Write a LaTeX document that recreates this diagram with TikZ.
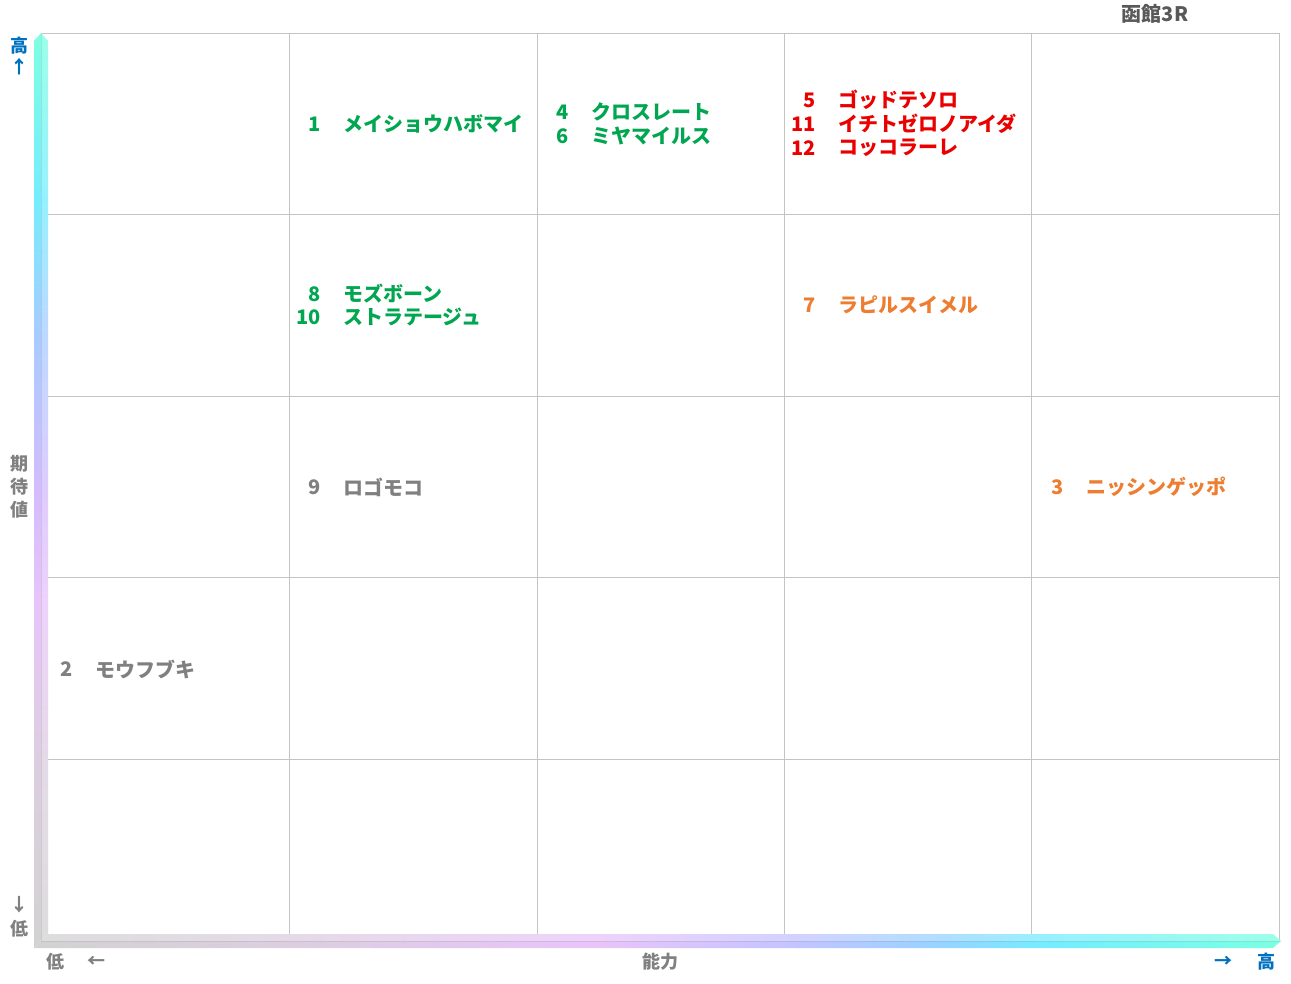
\documentclass[tikz,border=0pt]{standalone}
\usepackage{fontspec}
\setmainfont{Noto Sans CJK JP}
\definecolor{c0}{RGB}{210,210,210}
\definecolor{c1}{RGB}{220,206,224}
\definecolor{c2}{RGB}{232,196,250}
\definecolor{c3}{RGB}{212,188,255}
\definecolor{c4}{RGB}{168,204,255}
\definecolor{c5}{RGB}{118,236,255}
\definecolor{c6}{RGB}{124,255,226}
\definecolor{h4}{RGB}{196,196,255}
\definecolor{h5}{RGB}{150,212,255}
\definecolor{grn}{RGB}{0,166,80}
\definecolor{rd}{RGB}{235,0,0}
\definecolor{org}{RGB}{237,125,49}
\definecolor{gtx}{RGB}{128,128,128}
\definecolor{blu}{RGB}{0,112,192}
\definecolor{ttl}{RGB}{89,89,89}
\definecolor{grid}{RGB}{196,196,196}
\pgfdeclareverticalshading{vbar}{100bp}{color(0bp)=(c0); color(25bp)=(c0); color(35bp)=(c1); color(43.75bp)=(c2); color(50bp)=(c3); color(58.5bp)=(c4); color(65.75bp)=(c5); color(75bp)=(c6); color(100bp)=(c6)}
\pgfdeclarehorizontalshading{hbar}{100bp}{color(0bp)=(c0); color(25bp)=(c0); color(35.5bp)=(c1); color(47.5bp)=(c2); color(55.5bp)=(h4); color(61.5bp)=(h5); color(65.5bp)=(c5); color(75bp)=(c6); color(100bp)=(c6)}
\tikzset{
  gridline/.style={draw=grid, line width=0.9pt},
  lbl/.style={inner sep=0pt, font=\fontsize{20}{20}\selectfont\bfseries},
  num/.style={lbl, anchor=east},
  nam/.style={lbl, anchor=west},
  axl/.style={inner sep=0pt, font=\fontsize{18}{18}\selectfont\bfseries, text=gtx},
}
\begin{document}
\begin{tikzpicture}[x=1pt,y=-1pt]
\useasboundingbox (0,0) rectangle (1291,983);
% grid
\draw[gridline] (42,33) -- (1279,33) -- (1279,940);
\foreach \x in {289,537,784,1031} \draw[gridline] (\x,33) -- (\x,934);
\foreach \y in {214,396,577,759} \draw[gridline] (42,\y) -- (1279,\y);
% axes bars
\shade[shading=vbar] (34,41) -- (41,33) -- (48,41) -- (48,934) -- (34,948) -- cycle;
\shade[shading=hbar] (34,948) -- (48,934) -- (1273,934) -- (1281,941) -- (1273,948) -- cycle;
\fill[white, opacity=0.25] (41,33) -- (48,41) -- (48,934) -- (41,941) -- cycle;
\fill[white, opacity=0.25] (41,941) -- (48,934) -- (1273,934) -- (1281,941) -- cycle;
\draw[black, opacity=0.08, line width=0.8pt] (41,33) -- (41,941) -- (1281,941);
% axis labels
\node[axl, text=blu] (yhi) at (19,46) {高};
\node[axl, text=blu] (yhiar) at (19,67) {↑};
\node[axl] (ylo) at (19,929) {低};
\node[axl] (yloar) at (19,905) {↓};
\node[axl] (yk1) at (19,464) {期};
\node[axl] (yk2) at (19,487) {待};
\node[axl] (yk3) at (19,510) {値};
\node[axl] (xlo) at (55,962) {低};
\node[axl] (xloar) at (96,962) {←};
\node[axl] (xname) at (660,962) {能力};
\node[axl, text=blu] (xhiar) at (1223,962) {→};
\node[axl, text=blu] (xhi) at (1266,962) {高};
\node[axl, text=ttl, font=\fontsize{20}{20}\selectfont\bfseries] (title) at (1155,14) {函館3R};
% entries
\node[num, text=grn] (n1) at (321,124) {1};
\node[nam, text=grn] (h1) at (343,124) {メイショウハボマイ};
\node[num, text=grn] (n4) at (569,112) {4};
\node[nam, text=grn] (h4) at (591,112) {クロスレート};
\node[num, text=grn] (n6) at (569,136) {6};
\node[nam, text=grn] (h6) at (591,136) {ミヤマイルス};
\node[num, text=rd] (n5) at (816,100) {5};
\node[nam, text=rd] (h5) at (838,100) {ゴッドテソロ};
\node[num, text=rd] (n11) at (816,124) {11};
\node[nam, text=rd] (h11) at (838,124) {イチトゼロノアイダ};
\node[num, text=rd] (n12) at (816,148) {12};
\node[nam, text=rd] (h12) at (838,148) {コッコラーレ};
\node[num, text=grn] (n8) at (321,294) {8};
\node[nam, text=grn] (h8) at (343,294) {モズボーン};
\node[num, text=grn] (n10) at (321,317) {10};
\node[nam, text=grn] (h10) at (343,317) {ストラテージュ};
\node[num, text=org] (n7) at (816,305) {7};
\node[nam, text=org] (h7) at (838,305) {ラピルスイメル};
\node[num, text=gtx] (n9) at (321,487) {9};
\node[nam, text=gtx] (h9) at (343,487) {ロゴモコ};
\node[num, text=org] (n3) at (1064,487) {3};
\node[nam, text=org] (h3) at (1086,487) {ニッシンゲッポ};
\node[num, text=gtx] (n2) at (73,669) {2};
\node[nam, text=gtx] (h2) at (95,669) {モウフブキ};
\end{tikzpicture}
\end{document}
